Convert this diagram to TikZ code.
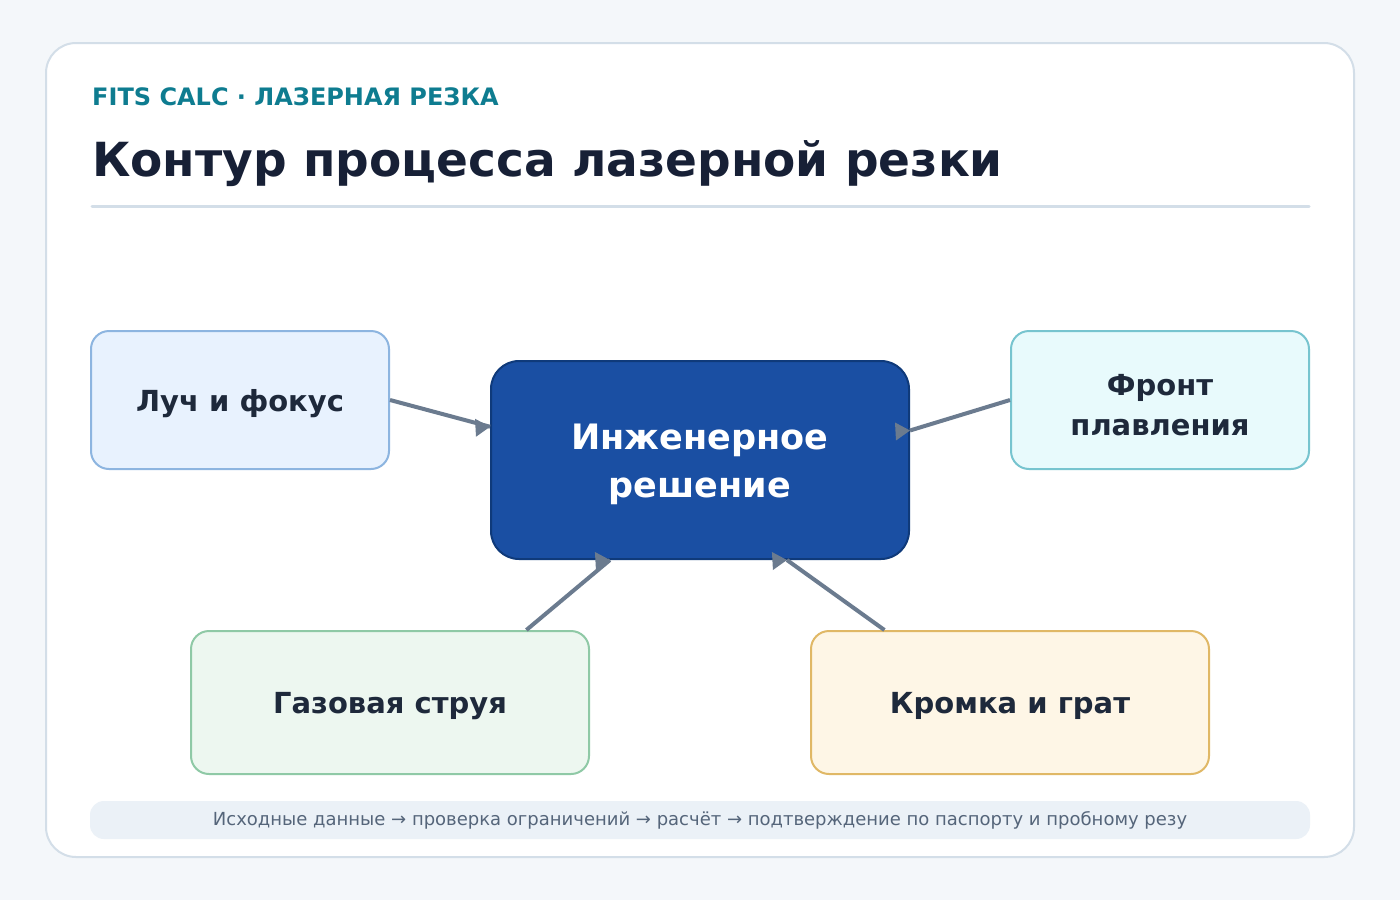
\documentclass[tikz,border=0pt]{standalone}
\usepackage{fontspec}
\setmainfont{DejaVu Sans}
\definecolor{pagebg}{HTML}{F4F7FA}
\definecolor{cardline}{HTML}{D3DEE8}
\definecolor{kicker}{HTML}{0E7C90}
\definecolor{titleink}{HTML}{172036}
\definecolor{boxink}{HTML}{1E293B}
\definecolor{arrowgray}{HTML}{6B7B8F}
\definecolor{hubfill}{HTML}{1A4FA3}
\definecolor{hubline}{HTML}{0F3A7A}
\definecolor{beamfill}{HTML}{E8F2FE}
\definecolor{beamline}{HTML}{8DB5E0}
\definecolor{frontfill}{HTML}{E8FAFC}
\definecolor{frontline}{HTML}{77C4CF}
\definecolor{gasfill}{HTML}{EDF7F0}
\definecolor{gasline}{HTML}{8FC9A6}
\definecolor{edgefill}{HTML}{FEF6E6}
\definecolor{edgeline}{HTML}{E0B866}
\definecolor{notefill}{HTML}{EBF1F7}
\definecolor{noteink}{HTML}{55657A}
\begin{document}
\begin{tikzpicture}[x=1pt,y=-1pt,line join=round,line cap=round,
		box/.style={draw,rounded corners=18pt,line width=2pt,align=center,text=boxink,
			font=\fontsize{29}{40}\selectfont\bfseries,inner sep=0pt,
			execute at begin node={\rule{0pt}{1em}}},
		hub/.style={draw=hubline,fill=hubfill,rounded corners=28pt,line width=2pt,align=center,
			text=white,font=\fontsize{35}{48}\selectfont\bfseries,inner sep=0pt,
			minimum width=418pt,minimum height=198pt},
		link/.style={draw=arrowgray,line width=4pt,line cap=butt}]
	\useasboundingbox[fill=pagebg] (0,0) rectangle (1400,900);
	\draw[fill=white,draw=cardline,line width=2pt,rounded corners=30pt] (46,43) rectangle (1354,857);
	% header
	\node[anchor=base west,inner sep=0pt,text=kicker,font=\fontsize{24}{28}\selectfont\bfseries] (kick) at (92,105) {FITS CALC · ЛАЗЕРНАЯ РЕЗКА};
	\node[anchor=base west,inner sep=0pt,text=titleink,font=\fontsize{47}{52}\selectfont\bfseries] (title) at (92,176) {Контур процесса лазерной резки};
	\draw[cardline,line width=3pt] (92,206) -- (1309,206);
	% boxes
	\node[hub] (hub) at (700,460) {\rule{0pt}{1em}Инженерное\\решение};
	\node[box,fill=beamfill,draw=beamline,minimum width=298pt,minimum height=138pt] (beam) at (240,400) {Луч и фокус};
	\node[box,fill=frontfill,draw=frontline,minimum width=298pt,minimum height=138pt] (front) at (1160,400) {\rule{0pt}{1.05em}Фронт\\плавления};
	\node[box,fill=gasfill,draw=gasline,minimum width=398pt,minimum height=143pt] (gas) at (390,702.5) {Газовая струя};
	\node[box,fill=edgefill,draw=edgeline,minimum width=398pt,minimum height=143pt] (edge) at (1010,702.5) {Кромка и грат};
	% links, heads all face right
	\foreach \from/\to in {beam.east/hub.171.6, front.west/hub.8.4, gas.28.6/hub.228.6, edge.150.5/hub.311.4}{
		\draw[link] (\from) -- (\to);
		\fill[arrowgray] (\to) ++(-15,-8) -- (\to) -- ++(-14,10) -- cycle;
	}
	% footer
	\node[fill=notefill,rounded corners=14pt,minimum width=1220pt,minimum height=38pt,inner sep=0pt,
		text=noteink,font=\fontsize{18}{21}\selectfont] (note) at (700,820) {Исходные данные → проверка ограничений → расчёт → подтверждение по паспорту и пробному резу};
\end{tikzpicture}
\end{document}
